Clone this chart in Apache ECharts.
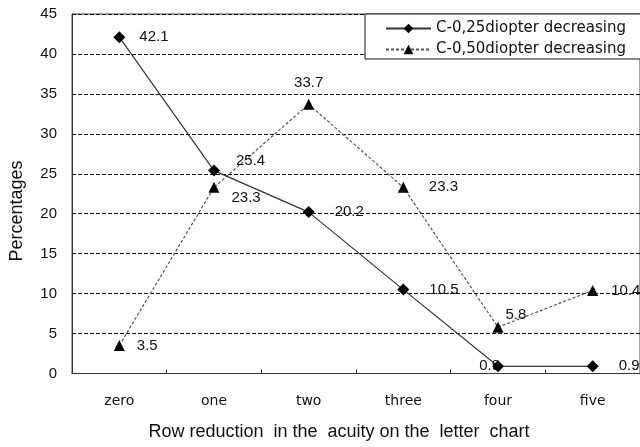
<!DOCTYPE html>
<html><head><meta charset="utf-8">
<script src="https://cdn.jsdelivr.net/npm/echarts@6/dist/echarts.min.js"></script>
<style>html,body{margin:0;padding:0;background:#fff}#c{width:640px;height:447px}</style>
</head><body><div id="c"></div>
<script>
const categories = ['zero', 'one', 'two', 'three', 'four', 'five'];
const series025 = [42.1, 25.4, 20.2, 10.5, 0.9, 0.9];
const series050 = [3.5, 23.3, 33.7, 23.3, 5.8, 10.4];
const seriesNames = ['C-0,25diopter decreasing', 'C-0,50diopter decreasing'];
const yTicks = [0, 5, 10, 15, 20, 25, 30, 35, 40, 45];
const xTitle = 'Row reduction  in the  acuity on the  letter  chart';
const yTitle = 'Percentages';

// label placement (style only)
const lab025 = [
  {position: 'right', distance: 14},
  {position: 'right', offset: [6, -10], distance: 10},
  {position: 'right', distance: 20},
  {position: 'right', distance: 20},
  {position: 'left', offset: [8, 0], distance: 0},
  {position: 'right', distance: 20}
];
const lab050 = [
  {position: 'right', distance: 12},
  {position: 'right', offset: [2, 11], distance: 10},
  {position: 'top', offset: [0, -2], distance: 6},
  {position: 'right', distance: 20},
  {position: 'right', offset: [-2, -12], distance: 4},
  {position: 'right', distance: 13}
];
const baseFont = 'Liberation Sans, Arial, sans-serif';
const wideFont = 'DejaVu Sans, sans-serif';
const labelFont = {fontFamily: baseFont, fontSize: 15, color: '#111'};

const chart = echarts.init(document.getElementById('c'), null, {renderer: 'canvas'});
chart.setOption({
  animation: false,
  backgroundColor: '#fff',
  grid: {left: 72, top: 14, width: 570, height: 359.5, show: true, borderColor: '#444', borderWidth: 1, backgroundColor: 'transparent'},
  legend: {
    left: 365, top: 14, orient: 'vertical',
    data: seriesNames,
    itemWidth: 45, itemHeight: 12, itemGap: 6,
    padding: [7, 30, 2, 20],
    borderColor: '#111', borderWidth: 1, backgroundColor: '#fff',
    textStyle: {fontFamily: wideFont, fontSize: 15, color: '#111'}
  },
  xAxis: {
    type: 'category', data: categories, boundaryGap: true,
    axisLine: {lineStyle: {color: '#333', width: 1}},
    axisTick: {show: true, inside: true, length: 4, lineStyle: {color: '#333'}},
    axisLabel: {margin: 21, fontFamily: wideFont, fontSize: 14, color: '#111'}
  },
  yAxis: {
    type: 'value', min: yTicks[0], max: yTicks[yTicks.length - 1], interval: 5,
    axisLine: {show: true, lineStyle: {color: '#333', width: 1}},
    axisTick: {show: false},
    axisLabel: {margin: 15, fontFamily: baseFont, fontSize: 15, color: '#111'},
    splitLine: {show: true, lineStyle: {color: '#111', type: [4, 2], width: 1}}
  },
  graphic: [
    {type: 'text', x: 339, y: 432, style: {text: xTitle, fontFamily: baseFont, fontSize: 18, fill: '#111', textAlign: 'center', textVerticalAlign: 'middle'}},
    {type: 'text', x: 17, y: 211, rotation: Math.PI / 2, style: {text: yTitle, fontFamily: baseFont, fontSize: 18, fill: '#111', textAlign: 'center', textVerticalAlign: 'middle'}}
  ],
  series: [
    {
      name: seriesNames[0], type: 'line', z: 3,
      data: series025.map((v, i) => ({value: v, label: Object.assign({show: true}, lab025[i], labelFont)})),
      symbol: 'diamond', symbolSize: 12,
      lineStyle: {color: '#333', width: 1.2},
      itemStyle: {color: '#000'},
      label: {show: true, formatter: '{c}'}
    },
    {
      name: seriesNames[1], type: 'line', z: 2,
      data: series050.map((v, i) => ({value: v, label: Object.assign({show: true}, lab050[i], labelFont)})),
      symbol: 'triangle', symbolSize: 11,
      lineStyle: {color: '#555', width: 1.2, type: [3, 2]},
      itemStyle: {color: '#000'},
      label: {show: true, formatter: '{c}'}
    }
  ]
});
</script></body></html>
